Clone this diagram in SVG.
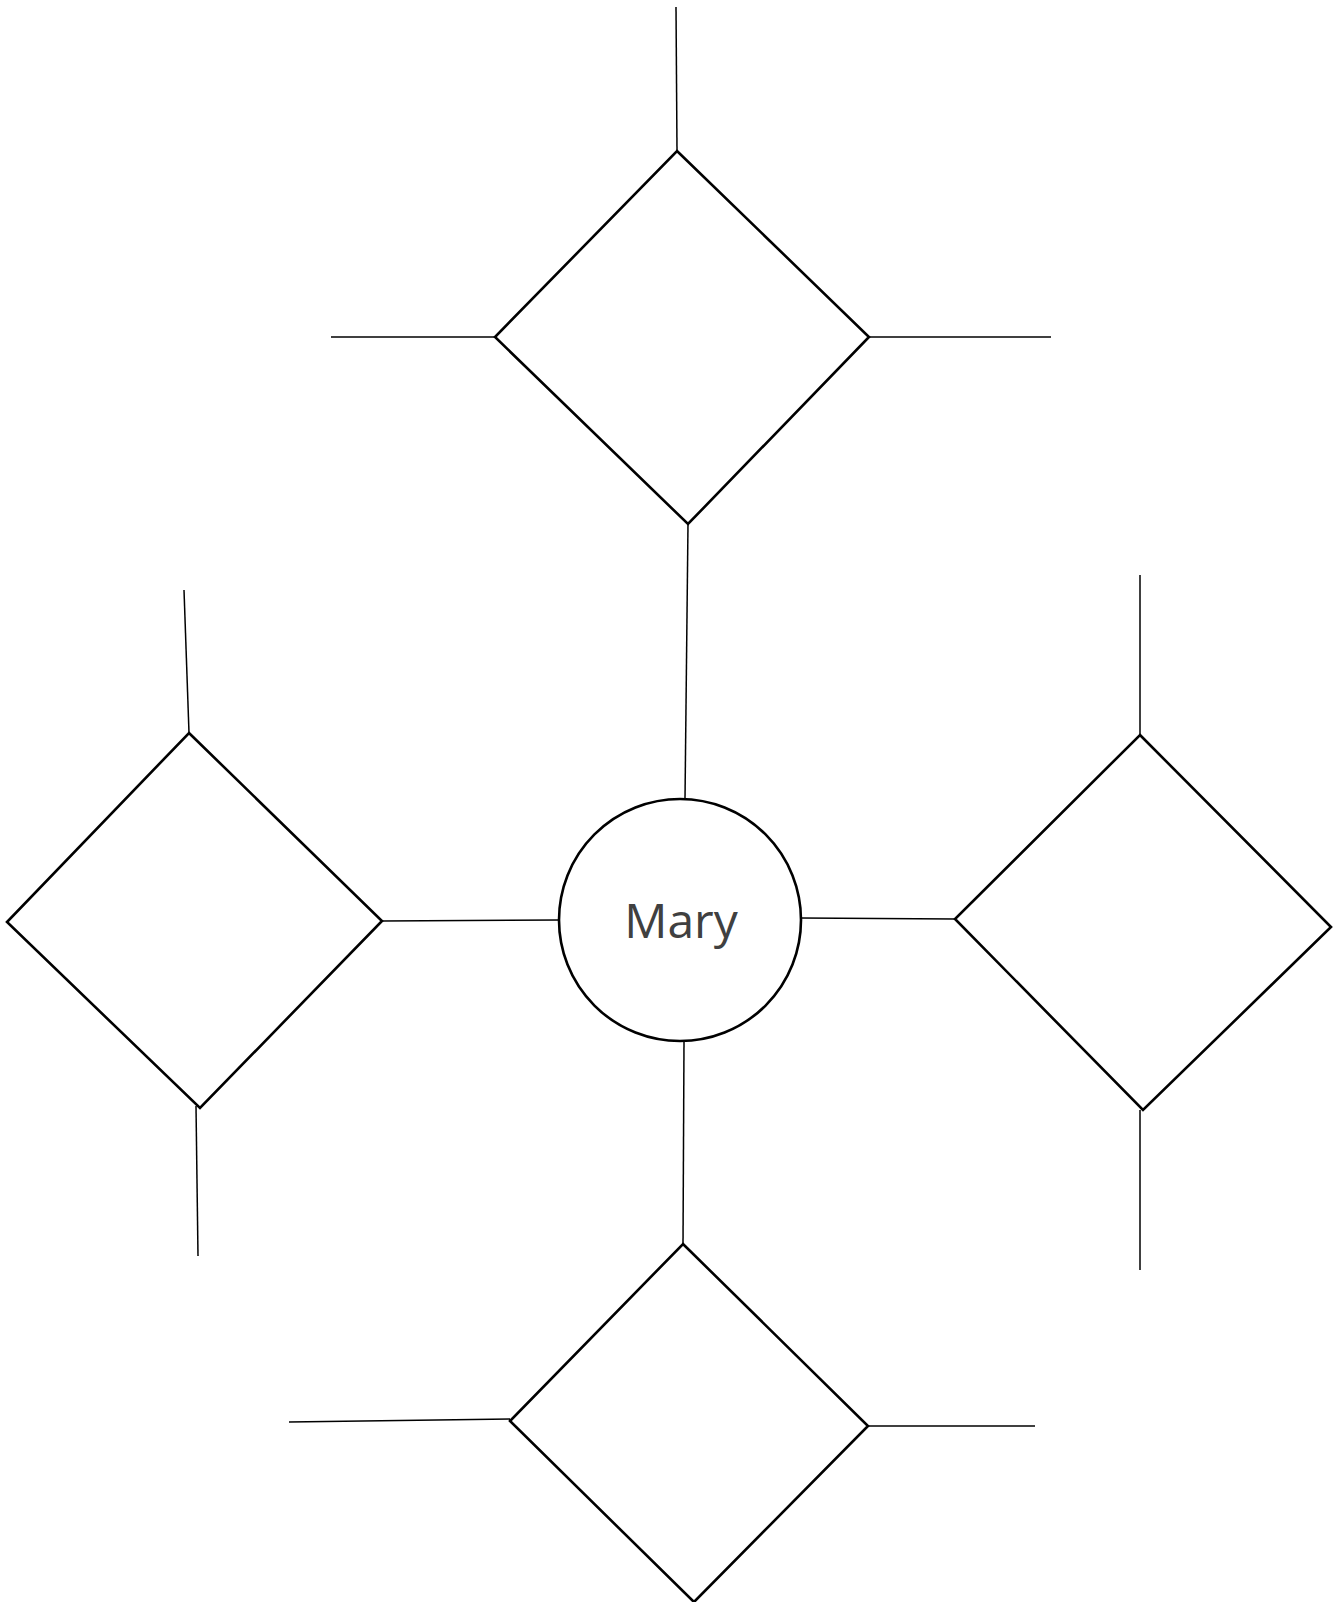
<svg xmlns="http://www.w3.org/2000/svg" width="1337" height="1602" viewBox="0 0 1337 1602">
<style>
.shape{fill:#ffffff;stroke:#000000;stroke-width:2.6;stroke-linejoin:miter}
.conn{stroke:#000000;stroke-width:1.5;fill:none}
.label{font-family:"Open Sans","Noto Sans","Liberation Sans",sans-serif;font-size:48px;fill:#404040;text-anchor:middle}
</style>
<rect width="1337" height="1602" fill="#ffffff"/>
<g id="connectors">
<line class="conn" x1="676" y1="7" x2="677" y2="151"/>
<line class="conn" x1="331" y1="337" x2="495" y2="337"/>
<line class="conn" x1="869" y1="337" x2="1051" y2="337"/>
<line class="conn" x1="688" y1="524" x2="685" y2="799"/>
<line class="conn" x1="184" y1="590" x2="189" y2="733"/>
<line class="conn" x1="196" y1="1106" x2="198" y2="1256"/>
<line class="conn" x1="382" y1="921" x2="559" y2="920"/>
<line class="conn" x1="1140" y1="575" x2="1140" y2="735"/>
<line class="conn" x1="1140" y1="1110" x2="1140" y2="1270"/>
<line class="conn" x1="801" y1="918" x2="955" y2="919"/>
<line class="conn" x1="289" y1="1422" x2="510" y2="1419"/>
<line class="conn" x1="868" y1="1426" x2="1035" y2="1426"/>
<line class="conn" x1="684" y1="1041" x2="683" y2="1244"/>
</g>
<g id="diamond-top">
<polygon class="shape" points="677,151 869,337 688,524 495,337"/>
</g>
<g id="diamond-left">
<polygon class="shape" points="189,733 382,921 200,1108 7,922"/>
</g>
<g id="diamond-right">
<polygon class="shape" points="1140,735 1331,927 1143,1110 955,919"/>
</g>
<g id="diamond-bottom">
<polygon class="shape" points="683,1244 868,1426 694,1602 510,1421"/>
</g>
<g id="mary">
<circle class="shape" cx="680" cy="920" r="121"/>
<text class="label" x="681" y="938">Mary</text>
</g>
</svg>
